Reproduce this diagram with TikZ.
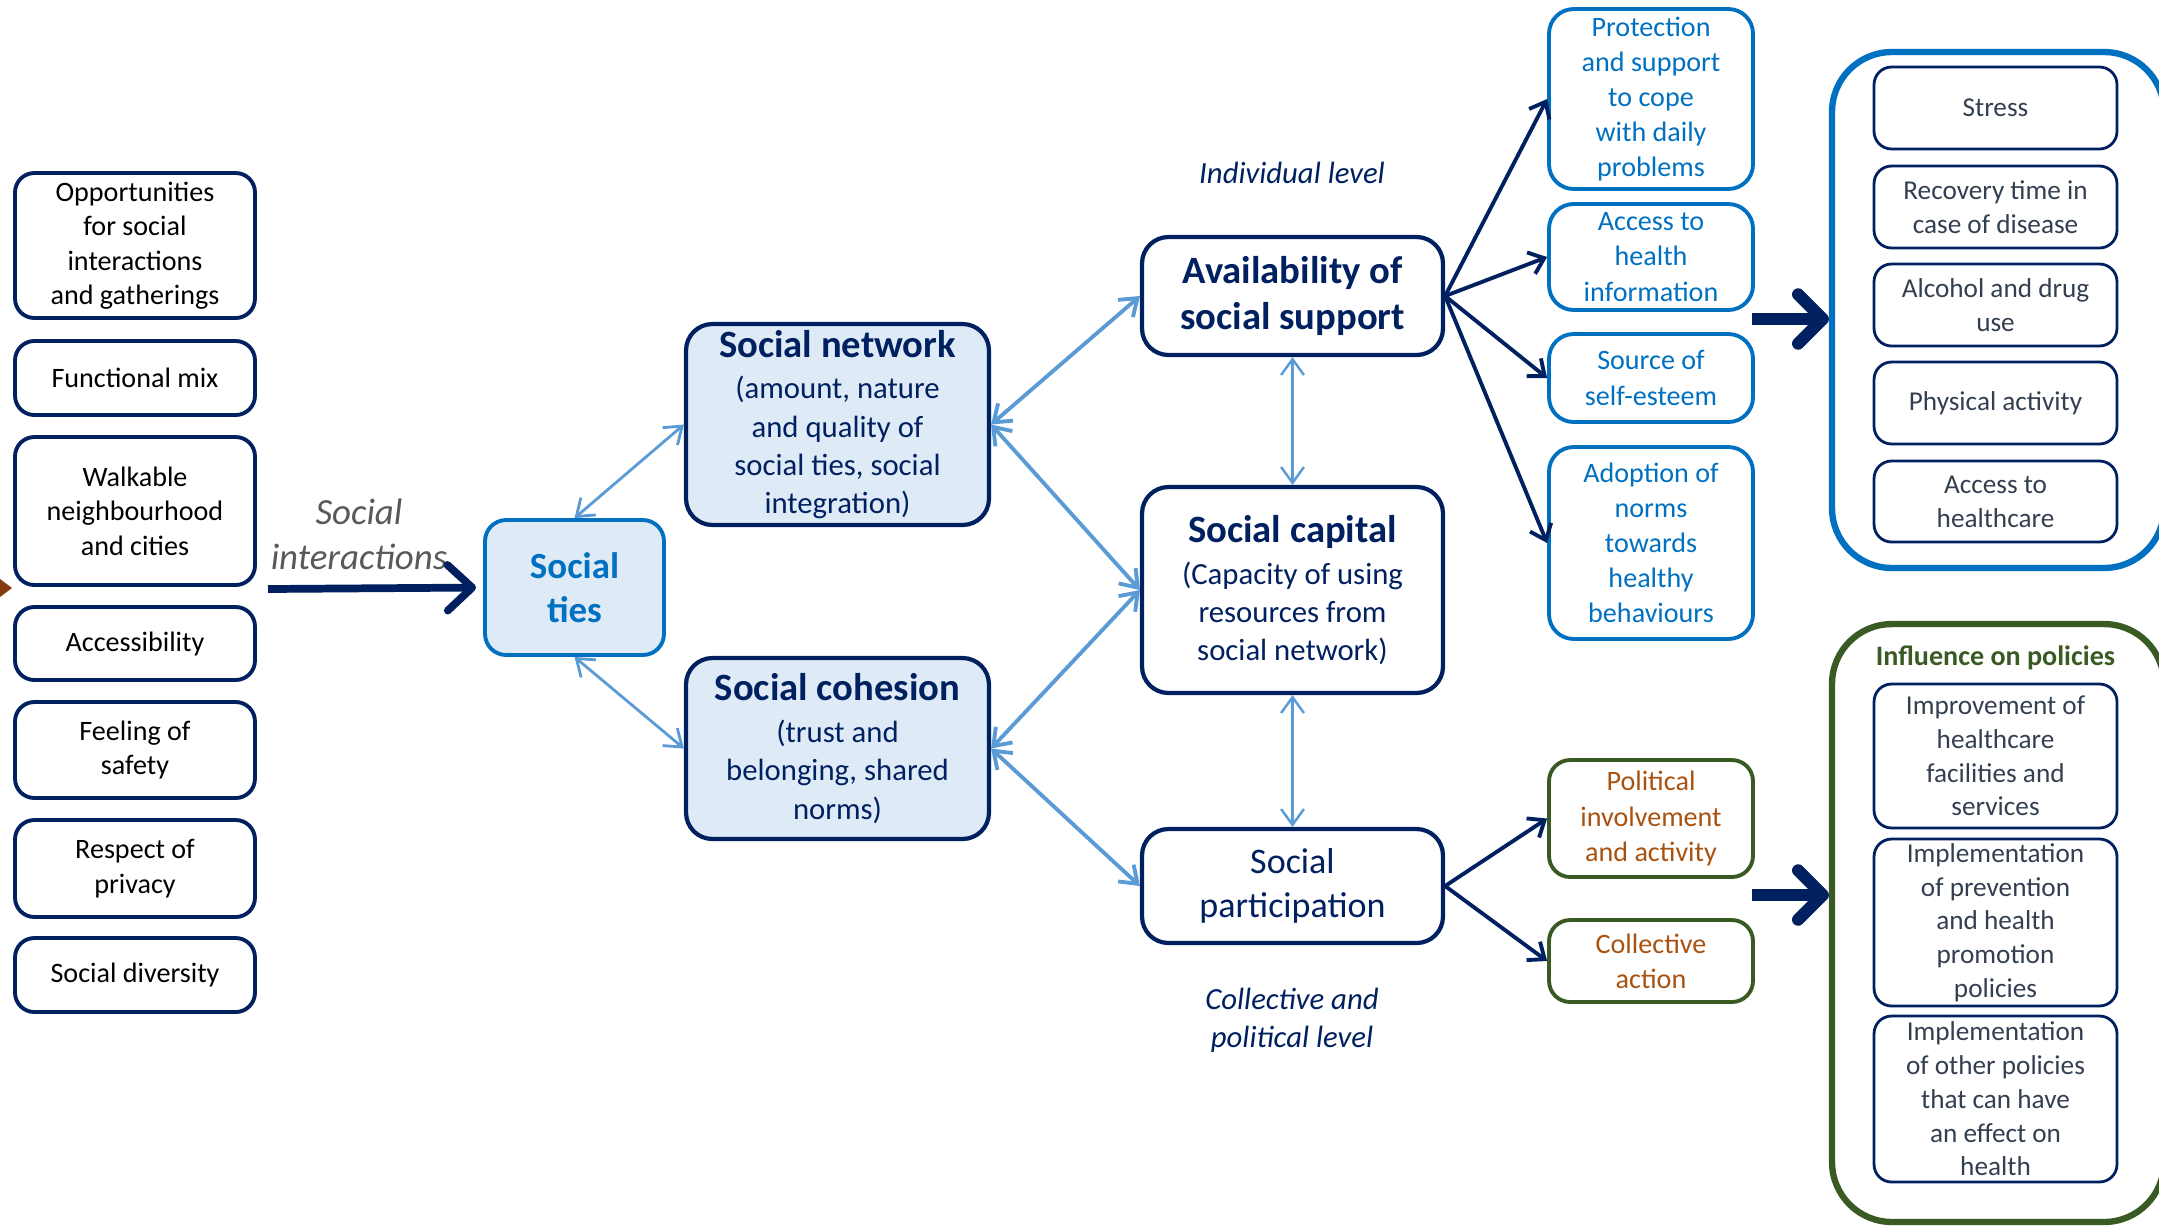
\documentclass[tikz,border=0pt]{standalone}
\usepackage{fontspec}
\setmainfont{Carlito}
\usetikzlibrary{arrows.meta}
\definecolor{navy}{HTML}{002060}
\definecolor{midblue}{HTML}{0070C0}
\definecolor{paleblue}{HTML}{DEEBF7}
\definecolor{linkblue}{HTML}{5B9BD5}
\definecolor{leafgreen}{HTML}{3A5A24}
\definecolor{rust}{HTML}{A9520F}
\definecolor{slate}{HTML}{333F50}
\definecolor{ashgray}{HTML}{595959}
\definecolor{umber}{HTML}{843C0C}

\begin{document}
\begin{tikzpicture}[x=0.02cm,y=-0.02cm,
  factor/.style={draw=navy,line width=2.2pt,rounded corners=11pt,align=center,inner sep=0pt,minimum width=4.8cm,text=black,font=\fontsize{16}{19.6}\selectfont},
  tiesbox/.style={draw=midblue,fill=paleblue,line width=2.2pt,rounded corners=12pt,align=center,inner sep=0pt,text=midblue,font=\bfseries\fontsize{21}{25}\selectfont},
  pillar/.style={draw=navy,fill=paleblue,line width=2.4pt,rounded corners=15pt,align=center,inner sep=0pt,minimum width=6.06cm,text=navy,font=\fontsize{17.5}{21.8}\selectfont},
  level/.style={draw=navy,fill=white,line width=2.4pt,rounded corners=15pt,align=center,inner sep=0pt,minimum width=6.02cm,text=navy},
  effect/.style={draw=midblue,line width=2.2pt,rounded corners=14pt,align=center,inner sep=0pt,minimum width=4.08cm,text=midblue,font=\fontsize{16}{20}\selectfont},
  action/.style={draw=leafgreen,line width=2.2pt,rounded corners=12pt,align=center,inner sep=0pt,minimum width=4.08cm,text=rust,font=\fontsize{16}{20}\selectfont},
  outcome/.style={draw=navy,line width=1.6pt,rounded corners=10pt,align=center,inner sep=0pt,minimum width=4.86cm,text=slate,font=\fontsize{15.5}{19.2}\selectfont},
  frame/.style={line width=3.6pt,rounded corners=34pt,inner sep=0pt,minimum width=6.64cm},
  link/.style={linkblue,{Straight Barb[length=9pt,width=13pt]}-{Straight Barb[length=9pt,width=13pt]}},
  push/.style={navy,line width=2.2pt,-{Straight Barb[length=8pt,width=13pt]}},
  bigarrow/.style={navy,line width=7pt,-{Straight Barb[length=14pt,width=28pt,round]}}]

\useasboundingbox (0,0) rectangle (2159,1225);
\clip (0,0) rectangle (2159,1225);

% built environment
\node[factor,minimum height=2.9cm] (opp) at (135,245.5) {Opportunities\\for social\\interactions\\and gatherings};
\node[factor,minimum height=1.48cm] (mix) at (135,378) {Functional mix};
\node[factor,minimum height=2.96cm] (walk) at (135,511) {Walkable\\neighbourhood\\and cities};
\node[factor,minimum height=1.46cm] (access) at (135,643.5) {Accessibility};
\node[factor,minimum height=1.92cm] (safety) at (135,750) {Feeling of\\safety};
\node[factor,minimum height=1.94cm] (privacy) at (135,868.5) {Respect of\\privacy};
\node[factor,minimum height=1.48cm] (diversity) at (135,975) {Social diversity};
\fill[umber] (0,579) -- (12,588) -- (0,597) -- cycle;

\node[text=ashgray,align=center,font=\itshape\fontsize{21}{25.5}\selectfont] (interact) at (359,534) {Social\\interactions};
\coordinate (siStart) at (268,589);

% social ties, network, cohesion
\node[tiesbox,minimum width=3.58cm,minimum height=2.7cm] (ties) at (574.5,587.5) {Social\\ties};
\node[pillar,minimum height=4.02cm] (network) at (837.5,424.5) {{\bfseries\fontsize{22}{26}\selectfont Social network}\\[2pt](amount, nature\\and quality of\\social ties, social\\integration)};
\node[pillar,minimum height=3.62cm] (cohesion) at (837.5,748.5) {{\bfseries\fontsize{22}{26}\selectfont Social cohesion}\\[2pt](trust and\\belonging, shared\\norms)};

% levels
\node[level,minimum height=2.36cm,font=\bfseries\fontsize{22}{26.6}\selectfont] (support) at (1292.5,296) {Availability of\\social support};
\node[level,minimum height=4.12cm,font=\fontsize{17.5}{21.8}\selectfont] (capital) at (1292.5,590) {{\bfseries\fontsize{22}{26}\selectfont Social capital}\\[2pt](Capacity of using\\resources from\\social network)};
\node[level,minimum height=2.28cm,font=\fontsize{20.5}{25}\selectfont] (particip) at (1292.5,886) {Social\\participation};
\node[text=navy,font=\itshape\fontsize{17.5}{21.8}\selectfont] (indiv) at (1292,173) {Individual level};
\node[text=navy,align=center,font=\itshape\fontsize{17.5}{21.8}\selectfont] (collect) at (1292,1020) {Collective and\\political level};

% mechanisms
\node[effect,minimum height=3.6cm] (protect) at (1651,99) {Protection\\and support\\to cope\\with daily\\problems};
\node[effect,minimum height=2.12cm] (info) at (1651,257) {Access to\\health\\information};
\node[effect,minimum height=1.76cm] (esteem) at (1651,378) {Source of\\self-esteem};
\node[effect,minimum height=3.84cm] (norms) at (1651,543) {Adoption of\\norms\\towards\\healthy\\behaviours};
\node[action,minimum height=2.34cm] (political) at (1651,818.5) {Political\\involvement\\and activity};
\node[action,minimum height=1.64cm] (collective) at (1651,961) {Collective\\action};

% health outcomes
\node[frame,draw=midblue,minimum height=10.32cm] (health) at (1998,310) {};
\node[outcome,minimum height=1.64cm] (stress) at (1995.5,108) {Stress};
\node[outcome,minimum height=1.64cm] (recovery) at (1995.5,207) {Recovery time in\\case of disease};
\node[outcome,minimum height=1.64cm] (alcohol) at (1995.5,305) {Alcohol and drug\\use};
\node[outcome,minimum height=1.64cm] (physical) at (1995.5,403) {Physical activity};
\node[outcome,minimum height=1.62cm] (care) at (1995.5,501.5) {Access to\\healthcare};

\node[frame,draw=leafgreen,minimum height=11.96cm] (policy) at (1998,923) {};
\node[text=leafgreen,font=\bfseries\fontsize{16}{19.6}\selectfont] (influence) at (1995.5,658) {Influence on policies};
\node[outcome,minimum height=2.88cm] (improve) at (1995.5,756) {Improvement of\\healthcare\\facilities and\\services};
\node[outcome,minimum height=3.34cm] (prevent) at (1995.5,922.5) {Implementation\\of prevention\\and health\\promotion\\policies};
\node[outcome,minimum height=3.32cm] (other) at (1995.5,1099) {Implementation\\of other policies\\that can have\\an effect on\\health};

% connectors
\draw[navy,line width=4.4pt,shorten >=4pt,-{Straight Barb[length=14pt,width=26pt,round]}] (siStart) -- (ties.west);
\draw[link,line width=1.6pt] (ties.north) -- (network.west);
\draw[link,line width=1.6pt] (ties.south) -- (cohesion.west);
\draw[link,line width=2.2pt] (network.east) -- (support.west);
\draw[link,line width=2.2pt] (network.east) -- (capital.west);
\draw[link,line width=2.2pt] (cohesion.east) -- (capital.west);
\draw[link,line width=2.2pt] (cohesion.east) -- (particip.west);
\draw[link,line width=1.4pt] (support.south) -- (capital.north);
\draw[link,line width=1.4pt] (capital.south) -- (particip.north);

\draw[push] (support.east) -- (protect.west);
\draw[push] (support.east) -- (info.west);
\draw[push] (support.east) -- (esteem.west);
\draw[push] (support.east) -- (norms.west);
\draw[push] (particip.east) -- (political.west);
\draw[push] (particip.east) -- (collective.west);

\coordinate (hStart) at (1752,319);
\coordinate (pStart) at (1752,895);
\draw[bigarrow] (hStart) -- (hStart -| health.west);
\draw[bigarrow] (pStart) -- (pStart -| policy.west);
\end{tikzpicture}
\end{document}
